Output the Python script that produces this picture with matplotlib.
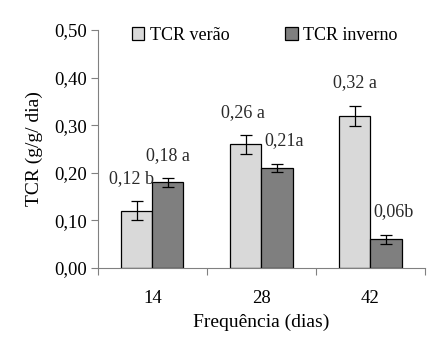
import numpy as np
import matplotlib.pyplot as plt
from matplotlib.ticker import FixedLocator, NullFormatter

# data
categories = ['14', '28', '42']
verao = [0.12, 0.26, 0.32]
verao_err = [0.02, 0.02, 0.021]
inverno = [0.18, 0.21, 0.06]
inverno_err = [0.009, 0.008, 0.009]
verao_labels = ['0,12 b', '0,26 a', '0,32 a']
inverno_labels = ['0,18 a', '0,21a', '0,06b']
yticks = [0.0, 0.1, 0.2, 0.3, 0.4, 0.5]

plt.rcParams['font.family'] = ['Liberation Serif', 'DejaVu Serif']

fig = plt.figure(figsize=(4.45, 3.48), dpi=100)
ax = fig.add_axes([0.220, 0.230, 0.735, 0.684])

x = np.arange(len(categories)) + 0.5
w = 0.285
ax.bar(x - w, verao, w, align='edge', color='#d9d9d9', edgecolor='black',
       linewidth=0.9, label='TCR verão')
ax.bar(x, inverno, w, align='edge', color='#7f7f7f', edgecolor='black',
       linewidth=0.9, label='TCR inverno')
ax.errorbar(x - w / 2, verao, yerr=verao_err, fmt='none', ecolor='black',
            elinewidth=0.9, capsize=4, capthick=0.9)
ax.errorbar(x + w / 2, inverno, yerr=inverno_err, fmt='none', ecolor='black',
            elinewidth=0.9, capsize=4, capthick=0.9)

# value labels (offsets from bar centre / top)
v_off = [(-0.05, 0.067), (-0.03, 0.066), (0.0, 0.069)]
i_off = [(0.0, 0.055), (0.07, 0.057), (0.07, 0.058)]
for i in range(len(categories)):
    ax.text(x[i] - w / 2 + v_off[i][0], verao[i] + v_off[i][1], verao_labels[i],
            ha='center', va='center', fontsize=13, color='#2a2a2a')
    ax.text(x[i] + w / 2 + i_off[i][0], inverno[i] + i_off[i][1], inverno_labels[i],
            ha='center', va='center', fontsize=13, color='#2a2a2a')

ax.set_xlim(0, 3)
ax.set_ylim(0, 0.5)
ax.set_yticks(yticks)
ax.set_yticklabels([f'{t:.2f}'.replace('.', ',') for t in yticks])
ax.xaxis.set_major_locator(FixedLocator([0, 1, 2, 3]))
ax.xaxis.set_major_formatter(NullFormatter())
ax.xaxis.set_minor_locator(FixedLocator(x))
ax.set_xticklabels(categories, minor=True)
ax.tick_params(axis='x', which='major', length=5, color='#808080', width=0.8)
ax.tick_params(axis='x', which='minor', length=0, pad=16, labelsize=13.5)
ax.tick_params(axis='y', length=5, color='#808080', width=0.8, labelsize=13.5, pad=3)

for s in ['top', 'right']:
    ax.spines[s].set_visible(False)
for s in ['left', 'bottom']:
    ax.spines[s].set_color('#808080')
    ax.spines[s].set_linewidth(0.8)

ax.set_ylabel('TCR (g/g/ dia)', fontsize=14, labelpad=8)
ax.set_xlabel('Frequência (dias)', fontsize=14, labelpad=5)

ax.legend(loc='upper center', bbox_to_anchor=(0.51, 1.08), ncol=2, frameon=False,
          fontsize=13, handlelength=0.7, handleheight=0.7, handletextpad=0.3,
          columnspacing=3.1)

fig.savefig('out.png', dpi=100)
